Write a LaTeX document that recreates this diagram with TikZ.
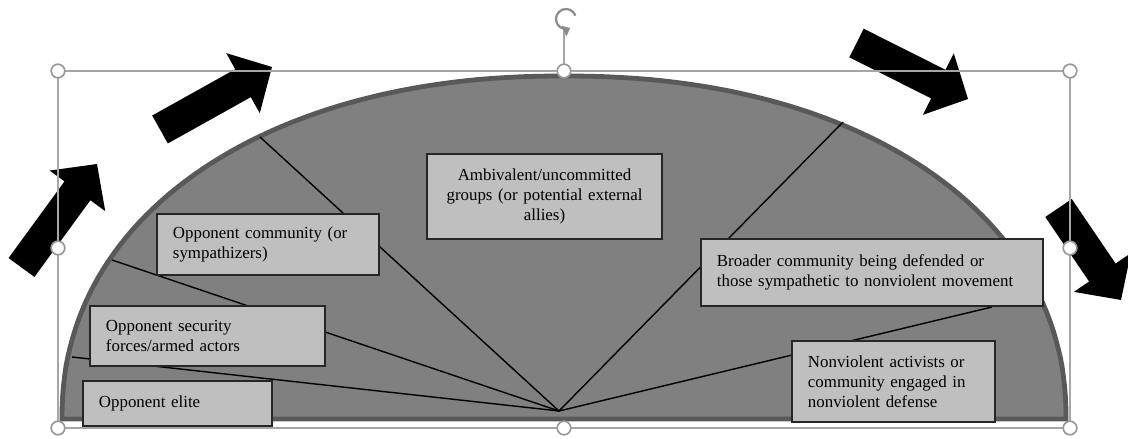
\documentclass[tikz,border=0pt]{standalone}
\usepackage{fontspec}
\setmainfont{Liberation Serif}
\usetikzlibrary{calc,arrows.meta}

\tikzset{
  group/.style={draw=black!85, fill=black!25, line width=1.1pt, inner xsep=0.4cm, inner ysep=0pt,
    align=left, font=\fontsize{12pt}{14.2pt}\selectfont},
  spoke/.style={black, line width=1pt},
  selframe/.style={draw=black!35, line width=0.8pt},
  handle/.style={circle, draw=black!40, fill=white, line width=1.2pt, minimum size=0.34cm, inner sep=0pt},
}
% block arrow from tail (#1) to tip (#2)
\newcommand{\blockarrow}[2]{%
  \coordinate (hb) at ($(#2)!0.83cm!(#1)$);
  \fill[black] ($(#1)!0.4cm!90:(#2)$) -- ($(hb)!0.4cm!-90:(#1)$) -- ($(hb)!0.86cm!-90:(#1)$) -- (#2)
    -- ($(hb)!0.86cm!90:(#1)$) -- ($(hb)!0.4cm!90:(#1)$) -- ($(#1)!0.4cm!-90:(#2)$) -- cycle;}

\begin{document}
\begin{tikzpicture}[x=0.025cm, y=-0.025cm]
  \useasboundingbox (0,0) rectangle (1128,439);
  % half disc (slightly fuller than an ellipse)
  \filldraw[fill=gray, draw=black!65, line width=0.12cm]
    plot[domain=0:180, samples=120, variable=\t]
      ({564+502*sign(cos(\t))*pow(max(abs(cos(\t)),0.0001),0.93)},
       {419-343*pow(max(abs(sin(\t)),0.0001),0.93)}) -- cycle;

  \coordinate (focus) at (559,411);
  \coordinate (r1) at (260,137);
  \coordinate (r2) at (112,260);
  \coordinate (r3) at (72,357);
  \coordinate (r4) at (843,122);
  \coordinate (r5) at (992,307);
  \foreach \i in {1,...,5}
    \draw[spoke] (r\i) -- (focus);

  \node[group, text width=5.075cm, minimum height=2.125cm, align=center] (ambivalent) at (544.5,196.5)
    {Ambivalent/uncommitted\\ groups (or potential external\\ allies)};
  \node[group, text width=4.75cm, minimum height=1.525cm] (community) at (268,244.5)
    {Opponent community (or\\ sympathizers)};
  \node[group, text width=5.075cm, minimum height=1.5cm] (security) at (207.5,336)
    {Opponent security\\ forces/armed actors};
  \node[group, text width=3.925cm, minimum height=1.125cm] (elite) at (177.5,403.5)
    {Opponent elite};
  \node[group, text width=7.75cm, minimum height=1.675cm] (broader) at (872,272.5)
    {Broader community being defended or\\ those sympathetic to nonviolent movement};
  \node[group, text width=4.275cm, minimum height=2.025cm] (activists) at (893.5,381.5)
    {Nonviolent activists or\\ community engaged in\\ nonviolent defense};

  % shift arrows
  \coordinate (t1) at (21.5,267.5);  \coordinate (h1) at (97,164);
  \coordinate (t2) at (160,129.5);   \coordinate (h2) at (272,67);
  \coordinate (t3) at (856.5,43);    \coordinate (h3) at (968,99);
  \coordinate (t4) at (1058.5,208);  \coordinate (h4) at (1121,300);
  \foreach \i in {1,...,4}
    \blockarrow{t\i}{h\i};

  % selection frame
  \coordinate (rot) at (566,19);
  \draw[selframe] (564,71) -- (564,30);
  \draw[black!45, line width=1.6pt, -{Triangle[width=8pt,length=5pt]}]
    ($(rot)+(-20:10)$) arc[start angle=-20, end angle=-295, radius=10];
  \draw[selframe] (58,71) rectangle (1070,428);
  \foreach \x/\y [count=\k] in {58/71,564/71,1070/71,58/248,1070/248,58/428,564/428,1070/428}
    \node[handle] (hd\k) at (\x,\y) {};
\end{tikzpicture}
\end{document}
